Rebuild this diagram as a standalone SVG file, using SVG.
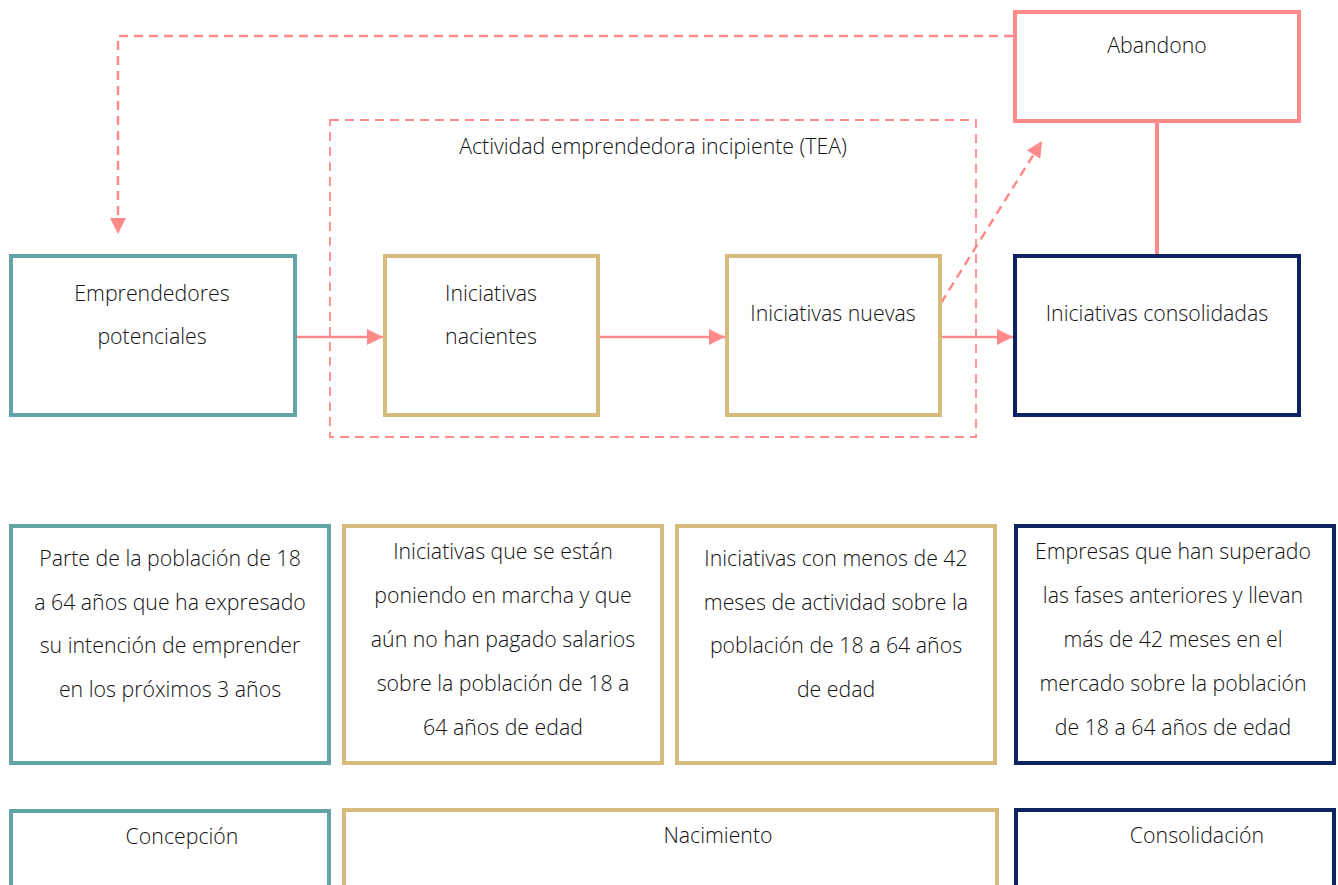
<svg xmlns="http://www.w3.org/2000/svg" width="1338" height="885" viewBox="0 0 1338 885">
<style>
.box{fill:#fff;stroke-width:4}
.teal{stroke:#63A5A6}
.gold{stroke:#D7BB7C}
.navy{stroke:#0C2461}
.pink{stroke:#FF8A8A}
text{font-family:"Open Sans","Liberation Sans",sans-serif;font-weight:300;font-size:21.3px;fill:#111;text-anchor:middle}
.d{font-size:21.3px}
.con{stroke:#FF8A8A;stroke-width:2.5;fill:none}
.dash{stroke-dasharray:9,6}
</style>
<defs>
<marker id="ah" viewBox="0 0 10 10" refX="10" refY="5" markerWidth="16" markerHeight="16" markerUnits="userSpaceOnUse" orient="auto">
<path d="M0,0 L10,5 L0,10 z" fill="#FF8A8A"/>
</marker>
</defs>
<rect width="1338" height="885" fill="#fff"/>
<g id="tea">
<rect x="330" y="120" width="646" height="317" fill="none" stroke="#FF8A8A" stroke-width="1.8" stroke-dasharray="9,6"/>
<text x="653" y="154">Actividad emprendedora incipiente (TEA)</text>
</g>
<g id="connectors">
<path class="con dash" d="M1013,36 H118 V234" marker-end="url(#ah)"/>
<path class="con" d="M296,337 H383" marker-end="url(#ah)"/>
<path class="con" d="M600,337 H725" marker-end="url(#ah)"/>
<path class="con" d="M942,337 H1013" marker-end="url(#ah)"/>
<path class="con dash" d="M941,303 L1042,141" marker-end="url(#ah)"/>
<path class="con" d="M1157,122 V254" style="stroke-width:4"/>
</g>
<g id="abandono">
<rect class="box pink" x="1015" y="12" width="284" height="109"/>
<text x="1157" y="53">Abandono</text>
</g>
<g id="emprendedores">
<rect class="box teal" x="11" y="256" width="284" height="159"/>
<text x="152" y="301">Emprendedores</text>
<text x="152" y="344">potenciales</text>
</g>
<g id="nacientes">
<rect class="box gold" x="385" y="256" width="213" height="159"/>
<text x="491" y="301">Iniciativas</text>
<text x="491" y="344">nacientes</text>
</g>
<g id="nuevas">
<rect class="box gold" x="727" y="256" width="213" height="159"/>
<text x="833" y="321">Iniciativas nuevas</text>
</g>
<g id="consolidadas">
<rect class="box navy" x="1015" y="256" width="284" height="159"/>
<text x="1157" y="321">Iniciativas consolidadas</text>
</g>
<g id="desc1">
<rect class="box teal" x="11" y="526" width="318" height="237"/>
<text class="d" x="170" y="566">Parte de la población de 18</text>
<text class="d" x="170" y="610">a 64 años que ha expresado</text>
<text class="d" x="170" y="653">su intención de emprender</text>
<text class="d" x="170" y="697">en los próximos 3 años</text>
</g>
<g id="desc2">
<rect class="box gold" x="344" y="526" width="318" height="237"/>
<text class="d" x="503" y="559">Iniciativas que se están</text>
<text class="d" x="503" y="603">poniendo en marcha y que</text>
<text class="d" x="503" y="647">aún no han pagado salarios</text>
<text class="d" x="503" y="691">sobre la población de 18 a</text>
<text class="d" x="503" y="735">64 años de edad</text>
</g>
<g id="desc3">
<rect class="box gold" x="677" y="526" width="318" height="237"/>
<text class="d" x="836" y="566">Iniciativas con menos de 42</text>
<text class="d" x="836" y="610">meses de actividad sobre la</text>
<text class="d" x="836" y="653">población de 18 a 64 años</text>
<text class="d" x="836" y="697">de edad</text>
</g>
<g id="desc4">
<rect class="box navy" x="1016" y="526" width="318" height="237"/>
<text class="d" x="1173" y="559">Empresas que han superado</text>
<text class="d" x="1173" y="603">las fases anteriores y llevan</text>
<text class="d" x="1173" y="647">más de 42 meses en el</text>
<text class="d" x="1173" y="691">mercado sobre la población</text>
<text class="d" x="1173" y="735">de 18 a 64 años de edad</text>
</g>
<g id="concepcion">
<rect class="box teal" x="11" y="811" width="318" height="90"/>
<text class="d" x="182" y="844">Concepción</text>
</g>
<g id="nacimiento">
<rect class="box gold" x="344" y="810" width="653" height="90"/>
<text class="d" x="718" y="843">Nacimiento</text>
</g>
<g id="consolidacion">
<rect class="box navy" x="1016" y="810" width="318" height="90"/>
<text class="d" x="1197" y="843">Consolidación</text>
</g>
</svg>
